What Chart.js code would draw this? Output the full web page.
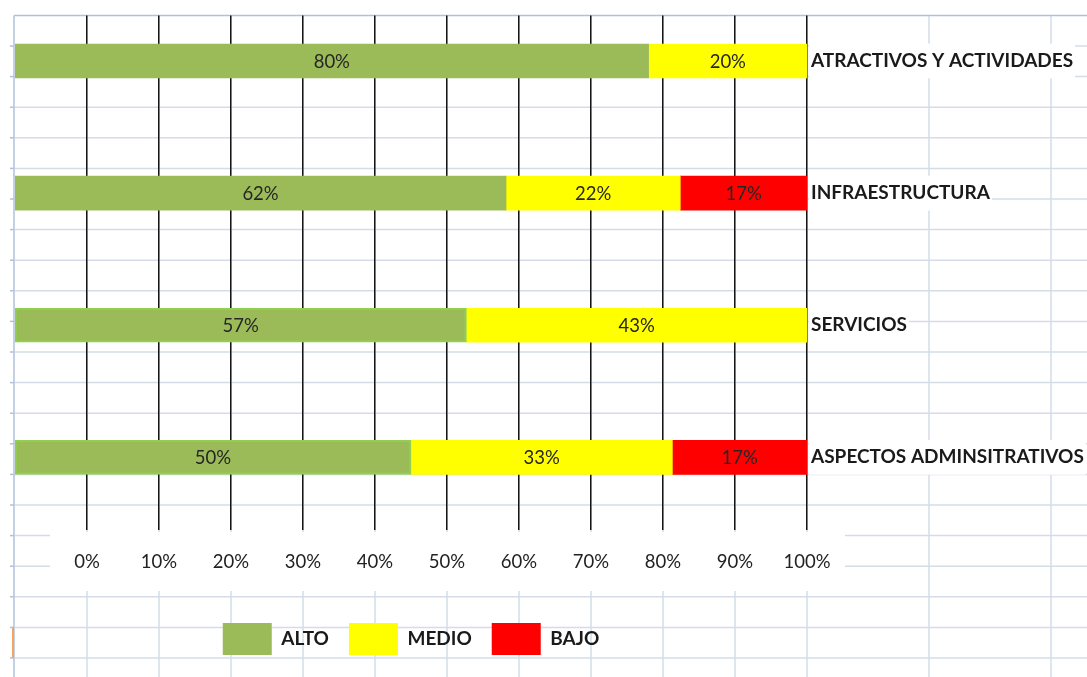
<!DOCTYPE html>
<html lang="es">
<head>
<meta charset="utf-8">
<title>Nivel por componente</title>
<script src="https://cdn.jsdelivr.net/npm/chart.js@4.4.0/dist/chart.umd.min.js"></script>
<style>
  html, body { margin: 0; padding: 0; background: #fff; }
  #chartContainer { width: 1087px; height: 677px; }
</style>
</head>
<body>
<div id="chartContainer"><canvas id="myChart"></canvas></div>
<script>
// Componentes evaluados y porcentaje en cada nivel
var categories = ['ATRACTIVOS Y ACTIVIDADES', 'INFRAESTRUCTURA', 'SERVICIOS', 'ASPECTOS ADMINSITRATIVOS'];
var alto = [80, 62, 57, 50];
var medio = [20, 22, 43, 33];
var bajo = [0, 17, 0, 17];
var tickLabels = ['0%', '10%', '20%', '30%', '40%', '50%', '60%', '70%', '80%', '90%', '100%'];

var FONT = 'Lato, "Open Sans", sans-serif';

// cada barra en la fila de su componente (indice 0..3)
function toPoints(values) {
  return values.map(function (v, i) { return { x: v, y: i }; });
}

function line(ctx, x1, y1, x2, y2) {
  ctx.beginPath();
  ctx.moveTo(x1, y1);
  ctx.lineTo(x2, y2);
  ctx.stroke();
}

// Cuadricula de hoja de calculo detras del grafico
var sheetBackground = {
  id: 'sheetBackground',
  beforeDraw: function (chart) {
    var ctx = chart.ctx;
    var w = chart.width, h = chart.height;
    var area = chart.chartArea;
    var xg = chart.scales.xg;
    var rowH = 30.6;

    ctx.save();
    ctx.fillStyle = '#fff';
    ctx.fillRect(0, 0, w, h);

    ctx.strokeStyle = '#D5DCE8';
    ctx.lineWidth = 1.5;
    for (var y = area.top + rowH; y < h; y += rowH) {
      line(ctx, area.left, y, w, y);
    }
    var cols = xg.ticks.map(function (t) { return xg.getPixelForValue(t.value); });
    for (var x = xg.right + 122; x < w; x += 122) cols.push(x);
    cols.forEach(function (cx) { line(ctx, cx, area.top, cx, h); });

    // bordes de la hoja
    ctx.strokeStyle = '#AFC2DA';
    line(ctx, area.left - 1, area.top, w, area.top);
    line(ctx, area.left - 1, area.top, area.left - 1, h);
    for (var ty = area.top + rowH; ty < h; ty += rowH) {
      line(ctx, area.left - 5, ty, area.left - 1, ty);
    }
    ctx.strokeStyle = '#F4A460';
    ctx.lineWidth = 2;
    line(ctx, area.left - 2, area.top + rowH * 20, area.left - 2, area.top + rowH * 21);

    // fondo blanco de las etiquetas de porcentaje
    ctx.fillStyle = '#fff';
    ctx.fillRect(xg.left + 35, area.bottom + 2, xg.right - xg.left + 3, 59);
    ctx.restore();
  }
};

// Porcentaje escrito en el centro de cada tramo
var valueLabels = {
  id: 'valueLabels',
  afterDatasetsDraw: function (chart) {
    var ctx = chart.ctx;
    ctx.save();
    ctx.font = '18.5px ' + FONT;
    ctx.fillStyle = '#262626';
    ctx.textAlign = 'center';
    ctx.textBaseline = 'middle';
    chart.data.datasets.forEach(function (ds, i) {
      var meta = chart.getDatasetMeta(i);
      meta.data.forEach(function (bar, j) {
        var v = ds.data[j].x;
        if (!v) return;
        var right = Math.min(bar.x, chart.chartArea.right);
        ctx.fillText(v + '%', (bar.base + right) / 2, bar.y + 1);
      });
    });
    ctx.restore();
  }
};

var ctx = document.getElementById('myChart').getContext('2d');
window.myChart = new Chart(ctx, {
  type: 'bar',
  data: {
    datasets: [{
      label: 'ALTO',
      data: toPoints(alto),
      backgroundColor: '#9BBB59',
      borderColor: '#8FD14F',
      borderWidth: function (c) { return c.dataIndex >= 2 ? 2 : 0; },
      borderSkipped: false
    }, {
      label: 'MEDIO',
      data: toPoints(medio),
      backgroundColor: '#FFFF00',
      borderWidth: 0
    }, {
      label: 'BAJO',
      data: toPoints(bajo),
      backgroundColor: '#FF0000',
      borderWidth: 0
    }]
  },
  options: {
    indexAxis: 'y',
    responsive: true,
    maintainAspectRatio: false,
    animation: false,
    barThickness: 34,
    layout: { padding: { top: 11, left: 15, right: 0, bottom: 12 } },
    scales: {
      x: {
        type: 'linear',
        stacked: true,
        min: 0,
        max: 100,
        display: false
      },
      xg: {
        type: 'linear',
        position: 'bottom',
        min: -10,
        max: 100,
        grid: { color: '#151515', lineWidth: 1.5, drawTicks: false },
        border: { display: false },
        ticks: {
          stepSize: 10,
          padding: 21,
          maxRotation: 0,
          autoSkip: false,
          color: '#222',
          font: { family: FONT, size: 18.5 },
          callback: function (v, i) { return tickLabels[i]; }
        },
        afterBuildTicks: function (scale) {
          scale.ticks = scale.ticks.filter(function (t) { return t.value >= 0; });
        },
        afterFit: function (scale) { scale.height = 73; }
      },
      y: {
        type: 'linear',
        position: 'right',
        reverse: true,
        stacked: true,
        offset: false,
        min: -0.345,
        max: 3.55,
        grid: { display: false, drawTicks: false, offset: false },
        border: { display: false },
        ticks: {
          crossAlign: 'near',
          padding: 4,
          color: '#1a1a1a',
          font: { family: FONT, size: 19, weight: 'bold' },
          showLabelBackdrop: true,
          backdropColor: '#fff',
          backdropPadding: { top: 6, bottom: 6, left: 2, right: 2 },
          callback: function (v) { return categories[v]; }
        },
        afterBuildTicks: function (scale) {
          scale.ticks = categories.map(function (c, i) { return { value: i }; });
        },
        afterFit: function (scale) { scale.width = 280; }
      }
    },
    plugins: {
      legend: {
        position: 'bottom',
        fullSize: false,
        labels: {
          boxWidth: 49,
          boxHeight: 32,
          padding: 20,
          color: '#1a1a1a',
          font: { family: FONT, size: 19, weight: 'bold' }
        }
      },
      tooltip: { enabled: false }
    }
  },
  plugins: [sheetBackground, valueLabels]
});
</script>
</body>
</html>
